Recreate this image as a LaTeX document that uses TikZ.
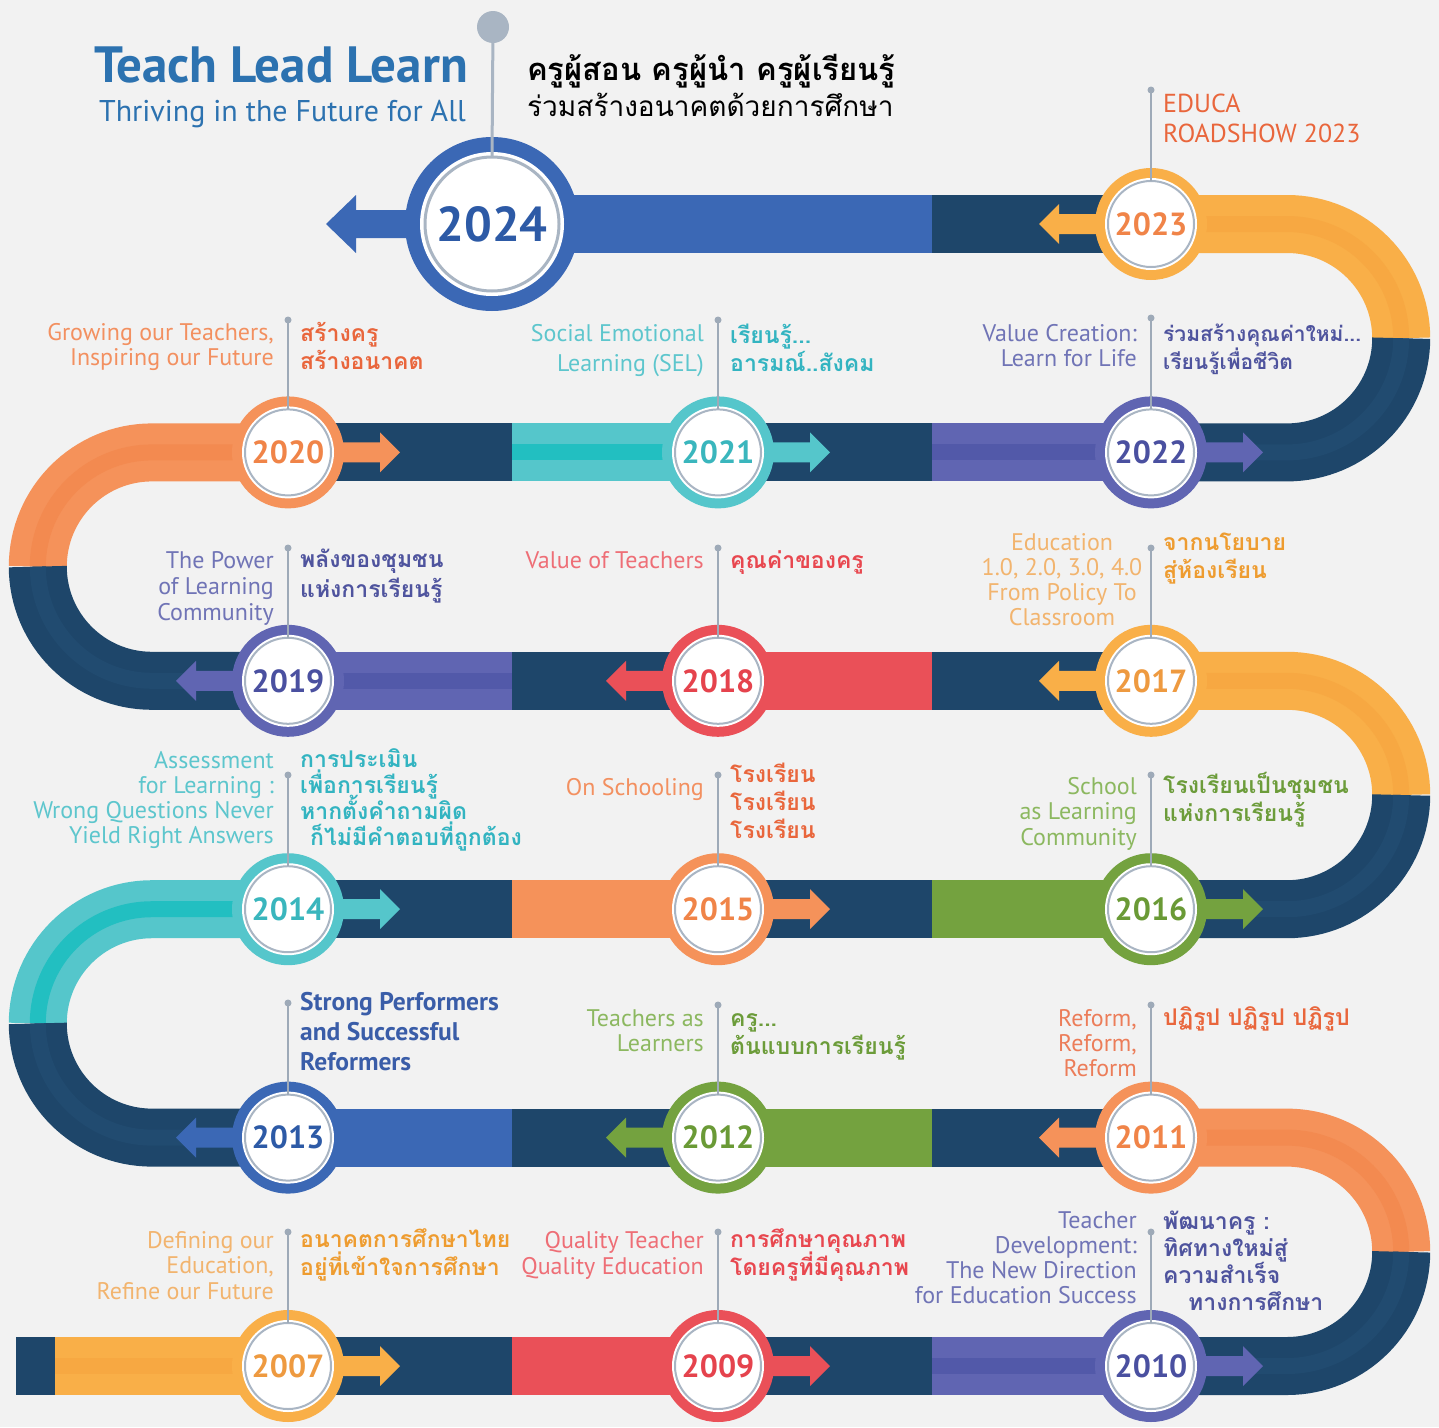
\documentclass[tikz,border=0pt]{standalone}
\usepackage{fontspec}
\setmainfont{PT Sans}
\newfontfamily\thai[Script=Thai]{Loma}
\usetikzlibrary{calc}
\newcommand\nolsk{\lineskiplimit-60pt\relax}
\definecolor{bg}{HTML}{F2F2F2}
\definecolor{navy}{HTML}{1E466A}
\definecolor{navyS}{HTML}{214B70}
\definecolor{cblue}{HTML}{3B68B5}
\definecolor{cyel}{HTML}{F9AF48}
\definecolor{cyelS}{HTML}{F7A842}
\definecolor{corg}{HTML}{F5925A}
\definecolor{corgS}{HTML}{F38A50}
\definecolor{cteal}{HTML}{55C6CB}
\definecolor{ctealS}{HTML}{22BFC1}
\definecolor{cpur}{HTML}{6065B2}
\definecolor{cpurS}{HTML}{5259A9}
\definecolor{cred}{HTML}{EA5058}
\definecolor{cgrn}{HTML}{74A23F}
\definecolor{ringgray}{HTML}{A9B5C3}
\definecolor{leadgray}{HTML}{9EAAB8}
\definecolor{titleblue}{HTML}{2C72B0}
% year text colours
\definecolor{tblue}{HTML}{2D5AA6}
\definecolor{tyel}{HTML}{EE9A40}
\definecolor{torg}{HTML}{F08448}
\definecolor{tteal}{HTML}{3AB6BD}
\definecolor{tpur}{HTML}{4A50A0}
\definecolor{tred}{HTML}{E5434D}
\definecolor{tgrn}{HTML}{6A9A36}
% label colours
\definecolor{lorg}{HTML}{F39060}\definecolor{dorg}{HTML}{E9663C}
\definecolor{lteal}{HTML}{5DC6CD}\definecolor{dteal}{HTML}{33B4C1}
\definecolor{lpur}{HTML}{7074B6}\definecolor{dpur}{HTML}{4F549E}
\definecolor{lred}{HTML}{EE6E76}\definecolor{dred}{HTML}{E8474F}
\definecolor{lyel}{HTML}{F2B46E}\definecolor{dyel}{HTML}{EE9C30}
\definecolor{lgrn}{HTML}{8CB860}\definecolor{dgrn}{HTML}{6C9C3A}
\definecolor{lbl}{HTML}{3A5DA8}

\tikzset{
  ringnode/.style={circle, inner sep=0pt, minimum size=112pt, fill=#1},
  bigring/.style={circle, inner sep=0pt, minimum size=174pt, fill=#1},
  yeartext/.style={inner sep=0pt, text=#1, font=\fontsize{32}{32}\selectfont\bfseries},
  leader/.style={draw=leadgray, line width=2pt},
  en/.style={inner sep=0pt, align=right, anchor=base east, text=#1, font=\fontsize{24}{25}\selectfont},
  th/.style={inner sep=0pt, align=left, anchor=base west, text=#1, font=\thai\fontsize{23}{28}\selectfont\bfseries\nolsk},
  band/.style={line width=58pt},
  bstripe/.style={line width=16pt},
}
\def\Ra{224}\def\Rb{452.4}\def\Rc{680.8}\def\Rd{909.2}\def\Re{1137.6}\def\Rf{1366}
\newcommand\seg[4]{\fill[#4] (#1,#3-29) rectangle (#2,#3+29);}
\newcommand\sseg[5]{\fill[#4] (#1,#3-29) rectangle (#2,#3+29);\fill[#5] (#1,#3-8) rectangle (#2,#3+8);}
\newcommand\yc[4]{%
  \node[ringnode=#2] (c#1) at (p#1) {};
  \fill[white] (c#1.center) circle[radius=46];
  \draw[ringgray, line width=2pt] (c#1.center) circle[radius=43];
  \node[yeartext=#3] (t#1) at (c#1.center) {#4};}
\newcommand\lead[3]{%
  \coordinate (d#1) at (#2,#3);
  \fill[leadgray] (d#1) circle[radius=3.5];
  \draw[leader] (d#1) -- ($(c#1.center)+(0,-43)$);}
\newcommand\rarr[2]{\fill[#2] (p#1) ++(0,-10) -- ++(92,0) -- ++(0,-10) -- ++(20,20) -- ++(-20,20) -- ++(0,-10) -- ++(-92,0) -- cycle;}
\newcommand\larr[2]{\fill[#2] (p#1) ++(0,-10) -- ++(-92,0) -- ++(0,-10) -- ++(-20,20) -- ++(20,20) -- ++(0,-10) -- ++(92,0) -- cycle;}

\begin{document}
\begin{tikzpicture}[x=1pt,y=-1pt]
\useasboundingbox (0,0) rectangle (1439,1427);
\fill[bg] (0,0) rectangle (1439,1427);

% positions
\coordinate (p2024) at (492,\Ra); \coordinate (p2023) at (1151,\Ra);
\coordinate (p2020) at (288,\Rb); \coordinate (p2021) at (718,\Rb); \coordinate (p2022) at (1151,\Rb);
\coordinate (p2019) at (288,\Rc); \coordinate (p2018) at (718,\Rc); \coordinate (p2017) at (1151,\Rc);
\coordinate (p2014) at (288,\Rd); \coordinate (p2015) at (718,\Rd); \coordinate (p2016) at (1151,\Rd);
\coordinate (p2013) at (288,\Re); \coordinate (p2012) at (718,\Re); \coordinate (p2011) at (1151,\Re);
\coordinate (p2007) at (288,\Rf); \coordinate (p2009) at (718,\Rf); \coordinate (p2010) at (1151,\Rf);

% ---------- bands ----------
\seg{492}{932}{\Ra}{cblue}
\seg{932}{1151}{\Ra}{navy}
\draw[band,cyel] (1151,\Ra) -- (1287,\Ra) arc(-90:0:114.2);
\draw[bstripe,cyelS] (1151,\Ra) -- (1287,\Ra) arc(-90:0:114.2);
\draw[band,navy] (1151,\Rb) -- (1287,\Rb) arc(90:0:114.2);
\draw[bstripe,navyS] (1151,\Rb) -- (1287,\Rb) arc(90:0:114.2);
\seg{288}{512}{\Rb}{navy}
\sseg{512}{718}{\Rb}{cteal}{ctealS}
\seg{718}{932}{\Rb}{navy}
\sseg{932}{1151}{\Rb}{cpur}{cpurS}
\draw[band,corg] (288,\Rb) -- (152,\Rb) arc(-90:-180:114.2);
\draw[bstripe,corgS] (288,\Rb) -- (152,\Rb) arc(-90:-180:114.2);
\draw[band,navy] (288,\Rc) -- (152,\Rc) arc(90:180:114.2);
\draw[bstripe,navyS] (288,\Rc) -- (152,\Rc) arc(90:180:114.2);
\sseg{288}{512}{\Rc}{cpur}{cpurS}
\seg{512}{718}{\Rc}{navy}
\seg{718}{932}{\Rc}{cred}
\seg{932}{1151}{\Rc}{navy}
\draw[band,cyel] (1151,\Rc) -- (1287,\Rc) arc(-90:0:114.2);
\draw[bstripe,cyelS] (1151,\Rc) -- (1287,\Rc) arc(-90:0:114.2);
\draw[band,navy] (1151,\Rd) -- (1287,\Rd) arc(90:0:114.2);
\draw[bstripe,navyS] (1151,\Rd) -- (1287,\Rd) arc(90:0:114.2);
\seg{288}{512}{\Rd}{navy}
\seg{512}{718}{\Rd}{corg}
\seg{718}{932}{\Rd}{navy}
\seg{932}{1151}{\Rd}{cgrn}
\draw[band,cteal] (288,\Rd) -- (152,\Rd) arc(-90:-180:114.2);
\draw[bstripe,ctealS] (288,\Rd) -- (152,\Rd) arc(-90:-180:114.2);
\draw[band,navy] (288,\Re) -- (152,\Re) arc(90:180:114.2);
\draw[bstripe,navyS] (288,\Re) -- (152,\Re) arc(90:180:114.2);
\seg{288}{512}{\Re}{cblue}
\seg{512}{718}{\Re}{navy}
\seg{718}{932}{\Re}{cgrn}
\seg{932}{1151}{\Re}{navy}
\draw[band,corg] (1151,\Re) -- (1287,\Re) arc(-90:0:114.2);
\draw[bstripe,corgS] (1151,\Re) -- (1287,\Re) arc(-90:0:114.2);
\draw[band,navy] (1151,\Rf) -- (1287,\Rf) arc(90:0:114.2);
\draw[bstripe,navyS] (1151,\Rf) -- (1287,\Rf) arc(90:0:114.2);
\seg{16}{55}{\Rf}{navy}
\sseg{55}{288}{\Rf}{cyel}{cyelS}
\seg{288}{512}{\Rf}{navy}
\seg{512}{718}{\Rf}{cred}
\seg{718}{932}{\Rf}{navy}
\sseg{932}{1151}{\Rf}{cpur}{cpurS}

% ---------- arrows ----------
\fill[cblue] (p2024) ++(0,-14) -- ++(-136,0) -- ++(0,-15) -- ++(-30,29) -- ++(30,29) -- ++(0,-15) -- ++(136,0) -- cycle;
\larr{2023}{cyel}
\rarr{2020}{corg}\rarr{2021}{cteal}\rarr{2022}{cpur}
\larr{2019}{cpur}\larr{2018}{cred}\larr{2017}{cyel}
\rarr{2014}{cteal}\rarr{2015}{corg}\rarr{2016}{cgrn}
\larr{2013}{cblue}\larr{2012}{cgrn}\larr{2011}{corg}
\rarr{2007}{cyel}\rarr{2009}{cred}\rarr{2010}{cpur}

% ---------- circles ----------
\node[bigring=cblue] (c2024) at (p2024) {};
\fill[white] (c2024.center) circle[radius=72];
\draw[ringgray, line width=3pt] (c2024.center) circle[radius=67];
\node[inner sep=0pt, text=tblue, font=\fontsize{49}{49}\selectfont\bfseries] (t2024) at (c2024.center) {2024};
\yc{2023}{cyel}{torg}{2023}
\yc{2020}{corg}{torg}{2020}
\yc{2021}{cteal}{tteal}{2021}
\yc{2022}{cpur}{tpur}{2022}
\yc{2019}{cpur}{tpur}{2019}
\yc{2018}{cred}{tred}{2018}
\yc{2017}{cyel}{tyel}{2017}
\yc{2014}{cteal}{tteal}{2014}
\yc{2015}{corg}{torg}{2015}
\yc{2016}{cgrn}{tgrn}{2016}
\yc{2013}{cblue}{tblue}{2013}
\yc{2012}{cgrn}{tgrn}{2012}
\yc{2011}{corg}{torg}{2011}
\yc{2007}{cyel}{tyel}{2007}
\yc{2009}{cred}{tred}{2009}
\yc{2010}{cpur}{tpur}{2010}

% ---------- leaders ----------
\coordinate (d2024) at (493,27);
\fill[ringgray] (d2024) circle[radius=16];
\draw[ringgray, line width=3pt] (d2024) -- ($(c2024.center)+(0,-67)$);
\lead{2023}{1151}{90}
\lead{2020}{288}{320}\lead{2021}{718}{320}\lead{2022}{1151}{318}
\lead{2019}{288}{548}\lead{2018}{718}{548}\lead{2017}{1151}{548}
\lead{2014}{288}{775}\lead{2015}{718}{775}\lead{2016}{1151}{775}
\lead{2013}{288}{1003}\lead{2012}{718}{1005}\lead{2011}{1151}{1005}
\lead{2007}{288}{1232}\lead{2009}{718}{1232}\lead{2010}{1151}{1232}

% ---------- header ----------
\node[inner sep=0pt, anchor=base east, text=titleblue, font=\fontsize{51}{51}\selectfont\bfseries] (title) at (468,82) {Teach Lead Learn};
\node[inner sep=0pt, anchor=base east, text=titleblue, font=\fontsize{30}{30}\selectfont] (subtitle) at (466,121) {Thriving in the Future for All};
\node[inner sep=0pt, anchor=base west, font=\thai\fontsize{31}{31}\selectfont\bfseries] (thhead) at (527,80) {ครูผู้สอน ครูผู้นำ ครูผู้เรียนรู้};
\node[inner sep=0pt, anchor=base west, font=\thai\fontsize{28}{28}\selectfont] (thsub) at (527,116) {ร่วมสร้างอนาคตด้วยการศึกษา};

% ---------- labels (y = baseline of last line) ----------
\node[inner sep=0pt, align=left, anchor=base west, text=dorg, font=\fontsize{26}{30}\selectfont] (l2023) at (1163,142) {EDUCA\\ROADSHOW 2023};

\node[en=lorg] (e2020) at (274,365) {Growing our Teachers,\\Inspiring our Future};
\node[th=dorg] (h2020) at (300,369) {สร้างครู\\สร้างอนาคต};
\node[en=lteal, font=\fontsize{24}{30}\selectfont] (e2021) at (704,371) {Social Emotional\\Learning (SEL)};
\node[th=dteal] (h2021) at (730,371) {เรียนรู้...\\อารมณ์..สังคม};
\node[en=lpur] (e2022) at (1137,366) {Value Creation:\\Learn for Life};
\node[th=dpur, font=\thai\fontsize{21}{28}\selectfont\bfseries\nolsk] (h2022) at (1163,369) {ร่วมสร้างคุณค่าใหม่...\\เรียนรู้เพื่อชีวิต};

\node[en=lpur, font=\fontsize{24}{26}\selectfont] (e2019) at (274,620) {The Power\\of Learning\\Community};
\node[th=dpur, font=\thai\fontsize{23}{30}\selectfont\bfseries\nolsk] (h2019) at (300,597) {พลังของชุมชน\\แห่งการเรียนรู้};
\node[en=lred] (e2018) at (704,568) {Value of Teachers};
\node[th=dred] (h2018) at (730,568) {คุณค่าของครู};
\node[en=lyel, align=center, anchor=base] (e2017) at (1062,625) {Education\\1.0, 2.0, 3.0, 4.0\\From Policy To\\Classroom};
\node[th=dyel] (h2017) at (1163,578) {จากนโยบาย\\สู่ห้องเรียน};

\node[en=lteal] (e2014) at (274,843) {Assessment\\for Learning :\\Wrong Questions Never\\Yield Right Answers};
\node[th=dteal, font=\thai\fontsize{23}{26}\selectfont\bfseries\nolsk] (h2014) at (300,845) {การประเมิน\\เพื่อการเรียนรู้\\หากตั้งคำถามผิด\\\hspace*{10pt}ก็ไม่มีคำตอบที่ถูกต้อง};
\node[en=lorg] (e2015) at (704,795) {On Schooling};
\node[th=dorg] (h2015) at (730,838) {โรงเรียน\\โรงเรียน\\โรงเรียน};
\node[en=lgrn, font=\fontsize{24}{25.5}\selectfont] (e2016) at (1137,845) {School\\as Learning\\Community};
\node[th=dgrn] (h2016) at (1163,821) {โรงเรียนเป็นชุมชน\\แห่งการเรียนรู้};

\node[inner sep=0pt, align=left, anchor=base west, text=lbl, font=\fontsize{25.5}{30}\selectfont\bfseries] (l2013) at (300,1070) {Strong Performers\\and Successful\\Reformers};
\node[en=lgrn] (e2012) at (704,1051) {Teachers as\\Learners};
\node[th=dgrn] (h2012) at (730,1054) {ครู...\\ต้นแบบการเรียนรู้};
\node[en=dorg!85!white] (e2011) at (1137,1076) {Reform,\\Reform,\\Reform};
\node[th=dorg] (h2011) at (1163,1025) {ปฏิรูป ปฏิรูป ปฏิรูป};

\node[en=lyel, font=\fontsize{24}{25.5}\selectfont] (e2007) at (274,1299) {Defining our\\Education,\\Refine our Future};
\node[th=dyel] (h2007) at (300,1275) {อนาคตการศึกษาไทย\\อยู่ที่เข้าใจการศึกษา};
\node[en=lred, font=\fontsize{24}{26}\selectfont] (e2009) at (704,1274) {Quality Teacher\\Quality Education};
\node[th=dred] (h2009) at (730,1275) {การศึกษาคุณภาพ\\โดยครูที่มีคุณภาพ};
\node[en=lpur] (e2010) at (1137,1303) {Teacher\\Development:\\The New Direction\\for Education Success};
\node[th=dpur, font=\thai\fontsize{23}{27}\selectfont\bfseries\nolsk] (h2010) at (1163,1310) {พัฒนาครู :\\ทิศทางใหม่สู่\\ความสำเร็จ\\\hspace*{25pt}ทางการศึกษา};
\end{tikzpicture}
\end{document}
